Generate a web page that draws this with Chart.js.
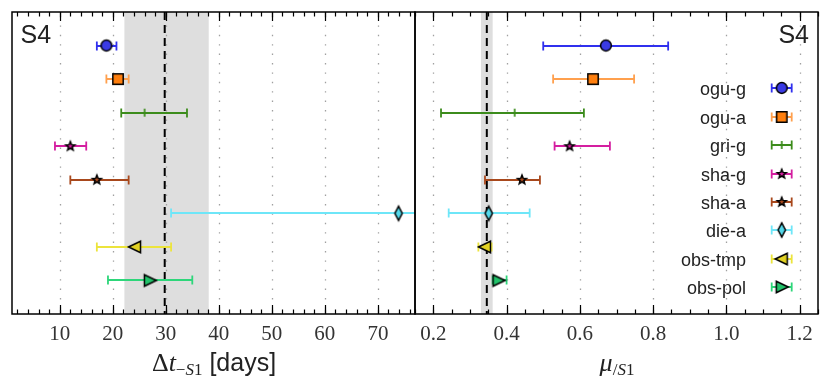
<!DOCTYPE html>
<html>
<head>
<meta charset="utf-8">
<script src="https://cdn.jsdelivr.net/npm/chart.js@4.4.1/dist/chart.umd.min.js"></script>
<style>
  html, body { margin: 0; padding: 0; background: #fff; }
  #wrap { position: relative; width: 831px; height: 390px; overflow: hidden; }
  #lagChart { position: absolute; left: 0; top: 0; }
  #magChart { position: absolute; left: 410px; top: 0; }
</style>
</head>
<body>
<div id="wrap">
  <canvas id="lagChart" width="416" height="390"></canvas>
  <canvas id="magChart" width="421" height="390"></canvas>
</div>
<script>
// sources, top to bottom
const sources = ['ogu-g', 'ogu-a', 'gri-g', 'sha-g', 'sha-a', 'die-a', 'obs-tmp', 'obs-pol'];

// time lag relative to S1 [days]
const lagValue = [18.8, 21.0, 26.0, 12.0, 17.0, 73.9, 24.2, 27.0];
const lagLow   = [17.0, 18.8, 21.6,  9.1, 12.0, 31.0, 17.0, 19.1];
const lagHigh  = [20.7, 23.0, 34.0, 15.0, 23.0, 100.0, 31.0, 35.0];

// magnification relative to S1
const magValue = [0.671, 0.636, 0.422, 0.572, 0.442, 0.351, 0.341, 0.378];
const magLow   = [0.500, 0.527, 0.221, 0.531, 0.341, 0.242, 0.323, 0.362];
const magHigh  = [0.841, 0.748, 0.611, 0.682, 0.491, 0.463, 0.359, 0.400];

// reference S4 prediction (dashed line) and its band
const lagRef = 29.8;
const lagBand = [22.2, 38.1];
const magRef = 0.346;
const magBand = [0.330, 0.362];

const lagTicks = [10, 20, 30, 40, 50, 60, 70];
const magTicks = [0.2, 0.4, 0.6, 0.8, 1.0, 1.2];

const shapes = ['circle', 'square', 'tick', 'star', 'star', 'diamond', 'triLeft', 'triRight'];
const barColors  = ['#3030ee', '#ffa04e', '#3c8c1c', '#d41ea0', '#a8481c', '#6ee6f8', '#ece43c', '#2ed67a'];
const fillColors = ['#3a3ae4', '#ff7f0e', '#3c8c1c', '#d41ea0', '#a8481c', '#55d8ea', '#e2d224', '#22c26a'];

function makeMarker(shape, fill) {
  const c = document.createElement('canvas');
  let w = 18, h = 18;
  if (shape === 'diamond') { w = 12; h = 20; }
  if (shape === 'tick') { w = 4; h = 10; }
  c.width = w; c.height = h;
  const g = c.getContext('2d');
  g.translate(w / 2, h / 2);
  g.lineWidth = 1.5;
  g.strokeStyle = '#000';
  g.fillStyle = fill;
  g.beginPath();
  switch (shape) {
    case 'circle': g.arc(0, 0, 5.4, 0, Math.PI * 2); break;
    case 'square': g.rect(-5.2, -5.2, 10.4, 10.4); break;
    case 'tick':
      g.strokeStyle = fill;
      g.lineWidth = 1.7;
      g.moveTo(0, -4); g.lineTo(0, 4); g.stroke();
      return c;
    case 'star':
      for (let k = 0; k < 10; k++) {
        const r = k % 2 ? 2.0 : 4.7;
        const a = -Math.PI / 2 + k * Math.PI / 5;
        g.lineTo(r * Math.cos(a), r * Math.sin(a));
      }
      g.closePath();
      break;
    case 'diamond': g.moveTo(0, -7.2); g.lineTo(3.7, 0); g.lineTo(0, 7.2); g.lineTo(-3.7, 0); g.closePath(); break;
    case 'triLeft': g.moveTo(-6.5, 0); g.lineTo(5.5, -5.8); g.lineTo(5.5, 5.8); g.closePath(); break;
    case 'triRight': g.moveTo(6.5, 0); g.lineTo(-5.5, -5.8); g.lineTo(-5.5, 5.8); g.closePath(); break;
  }
  g.fill();
  g.stroke();
  return c;
}

const markers = shapes.map((s, i) => makeMarker(s, fillColors[i]));

function drawRich(ctx, parts, cx, baseline) {
  let total = 0;
  parts.forEach(p => { ctx.font = p.font; p.w = ctx.measureText(p.t).width; total += p.w; });
  let x = cx - total / 2;
  ctx.textAlign = 'left';
  ctx.textBaseline = 'alphabetic';
  parts.forEach(p => {
    ctx.font = p.font;
    ctx.fillText(p.t, x, baseline + (p.dy || 0));
    x += p.w;
  });
}

function makePanel(id, cfg) {
  const decor = {
    id: 'decor',
    beforeDatasetsDraw(chart) {
      const { ctx, chartArea: a, scales: { x, y } } = chart;
      ctx.save();
      ctx.beginPath();
      ctx.rect(a.left, a.top, a.right - a.left, a.bottom - a.top);
      ctx.clip();

      // grey band
      const b0 = x.getPixelForValue(cfg.band[0]);
      const b1 = x.getPixelForValue(cfg.band[1]);
      ctx.fillStyle = '#dedede';
      ctx.fillRect(b0, a.top, b1 - b0, a.bottom - a.top);

      // dotted grid
      ctx.strokeStyle = '#a0a0a0';
      ctx.lineWidth = 1.3;
      ctx.setLineDash([1.4, 8]);
      cfg.ticks.forEach(v => {
        const px = Math.round(x.getPixelForValue(v)) + 0.5;
        ctx.beginPath(); ctx.moveTo(px, a.top + 4); ctx.lineTo(px, a.bottom); ctx.stroke();
      });

      // dashed reference
      ctx.strokeStyle = '#000';
      ctx.lineWidth = 2;
      ctx.setLineDash([8, 5]);
      const rp = x.getPixelForValue(cfg.ref);
      ctx.beginPath(); ctx.moveTo(rp, a.top); ctx.lineTo(rp, a.bottom); ctx.stroke();
      ctx.setLineDash([]);

      // error bars
      ctx.lineWidth = 1.8;
      cfg.values.forEach((v, i) => {
        const yp = Math.round(y.getPixelForValue(i));
        const lo = x.getPixelForValue(cfg.low[i]);
        const hi = x.getPixelForValue(cfg.high[i]);
        ctx.strokeStyle = barColors[i];
        ctx.beginPath();
        ctx.moveTo(lo, yp); ctx.lineTo(hi, yp);
        ctx.moveTo(lo, yp - 4.5); ctx.lineTo(lo, yp + 4.5);
        ctx.moveTo(hi, yp - 4.5); ctx.lineTo(hi, yp + 4.5);
        ctx.stroke();
      });
      ctx.restore();
    },
    afterDraw(chart) {
      const { ctx, chartArea: a, scales: { x } } = chart;
      ctx.save();
      // inward ticks on top and bottom
      ctx.strokeStyle = '#000';
      ctx.lineWidth = 1.2;
      for (let v = cfg.minorStart; v <= cfg.max + 1e-9; v += cfg.minorStep) {
        const px = Math.round(x.getPixelForValue(v)) + 0.5;
        ctx.beginPath();
        ctx.moveTo(px, a.bottom); ctx.lineTo(px, a.bottom - 4.5);
        ctx.moveTo(px, a.top); ctx.lineTo(px, a.top + 4.5);
        ctx.stroke();
      }
      cfg.ticks.forEach(v => {
        const px = Math.round(x.getPixelForValue(v)) + 0.5;
        ctx.beginPath();
        ctx.moveTo(px, a.bottom); ctx.lineTo(px, a.bottom - 9);
        ctx.moveTo(px, a.top); ctx.lineTo(px, a.top + 9);
        ctx.stroke();
      });
      // frame
      ctx.lineWidth = 1.5;
      ctx.strokeRect(a.left, a.top, a.right - a.left, a.bottom - a.top);

      // panel label
      ctx.fillStyle = '#222';
      ctx.font = '25px "Liberation Sans", Arial, sans-serif';
      ctx.textBaseline = 'alphabetic';
      ctx.textAlign = cfg.labelAlign;
      ctx.fillText('S4', cfg.labelX, 42.5);

      // axis title
      ctx.fillStyle = '#222';
      drawRich(ctx, cfg.title, cfg.titleX, 371);

      // legend
      if (cfg.legend) {
        ctx.font = '18px "Liberation Sans", Arial, sans-serif';
        sources.forEach((s, i) => {
          const cy = Math.round(88.3 + i * 28.43);
          ctx.fillStyle = '#222';
          ctx.textAlign = 'right';
          ctx.textBaseline = 'alphabetic';
          ctx.fillText(s, cfg.legendTextX, cy + 6.5);
          const mx = cfg.legendMarkX;
          ctx.strokeStyle = barColors[i];
          ctx.lineWidth = 1.8;
          ctx.beginPath();
          ctx.moveTo(mx - 10, cy); ctx.lineTo(mx + 10, cy);
          ctx.moveTo(mx - 10, cy - 4.5); ctx.lineTo(mx - 10, cy + 4.5);
          ctx.moveTo(mx + 10, cy - 4.5); ctx.lineTo(mx + 10, cy + 4.5);
          ctx.stroke();
          const m = markers[i];
          ctx.drawImage(m, mx - m.width / 2, cy - m.height / 2);
        });
      }
      ctx.restore();
    }
  };

  return new Chart(document.getElementById(id), {
    type: 'scatter',
    data: {
      datasets: [{
        data: cfg.values.map((v, i) => ({ x: v, y: i })),
        pointStyle: (c) => markers[c.dataIndex],
        pointRadius: 6,
        pointHoverRadius: 6,
        showLine: false
      }]
    },
    options: {
      responsive: false,
      animation: false,
      events: [],
      layout: { padding: cfg.padding, autoPadding: false },
      plugins: { legend: { display: false }, tooltip: { enabled: false } },
      scales: {
        x: {
          type: 'linear',
          min: cfg.min,
          max: cfg.max,
          afterBuildTicks: (s) => { s.ticks = cfg.ticks.map(v => ({ value: v })); },
          afterFit: (s) => { s.height = 76; },
          grid: { display: false, drawTicks: false },
          border: { display: false },
          ticks: {
            autoSkip: false,
            maxRotation: 0,
            padding: 8,
            color: '#333',
            font: { family: '"Liberation Serif", "DejaVu Serif", serif', size: 21 },
            callback: cfg.format
          }
        },
        y: { type: 'linear', min: -1, max: 8, reverse: true, display: false }
      }
    },
    plugins: [decor]
  });
}

const serif = '"Liberation Serif", "DejaVu Serif", serif';
const sans = '"Liberation Sans", Arial, sans-serif';

makePanel('lagChart', {
  values: lagValue, low: lagLow, high: lagHigh,
  ref: lagRef, band: lagBand, ticks: lagTicks,
  min: 1, max: 77, minorStart: 2, minorStep: 2,
  format: (v) => String(v),
  padding: { left: 12, right: 1, top: 12, bottom: 0 },
  labelAlign: 'left', labelX: 20.5,
  titleX: 214,
  title: [
    { t: '\u0394', font: '26px ' + serif },
    { t: 't', font: 'italic 26px ' + serif },
    { t: '\u2212', font: '17px ' + serif, dy: 4 },
    { t: 'S', font: 'italic 17px ' + serif, dy: 4 },
    { t: '1', font: '17px ' + serif, dy: 4 },
    { t: ' [days]', font: '25px ' + sans }
  ],
  legend: false
});

makePanel('magChart', {
  values: magValue, low: magLow, high: magHigh,
  ref: magRef, band: magBand, ticks: magTicks,
  min: 0.15, max: 1.25, minorStart: 0.15, minorStep: 0.05,
  format: (v) => v.toFixed(1),
  padding: { left: 5, right: 13, top: 12, bottom: 0 },
  labelAlign: 'right', labelX: 399,
  titleX: 207,
  title: [
    { t: '\u03bc', font: 'italic 26px ' + serif },
    { t: '/', font: '17px ' + serif, dy: 4 },
    { t: 'S', font: 'italic 17px ' + serif, dy: 4 },
    { t: '1', font: '17px ' + serif, dy: 4 }
  ],
  legend: true, legendTextX: 336, legendMarkX: 371.7
});
</script>
</body>
</html>
